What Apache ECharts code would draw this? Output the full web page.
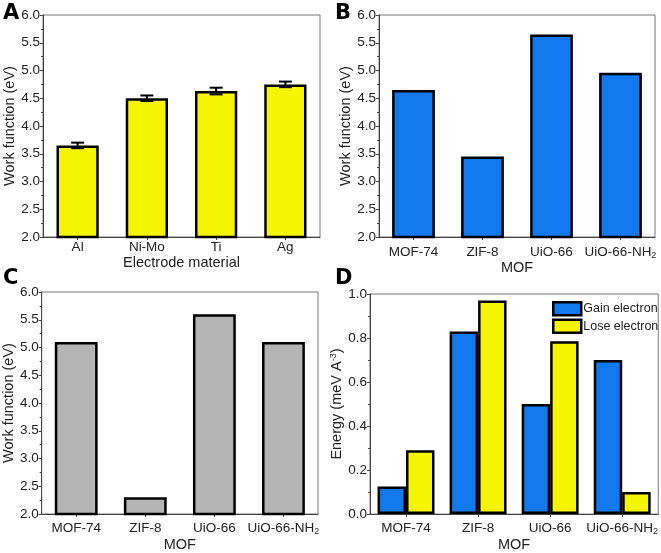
<!DOCTYPE html>
<html><head><meta charset="utf-8">
<script src="https://cdn.jsdelivr.net/npm/echarts@6/dist/echarts.min.js"></script>
<style>html,body{margin:0;padding:0;background:#fff}#c{width:661px;height:553px}</style>
</head><body><div id="c"></div>
<script>
// ---- data ----
const electrodes = ['Al', 'Ni-Mo', 'Ti', 'Ag'];
const electrodeWF = [3.65, 4.50, 4.63, 4.75];
const electrodeErr = [0.05, 0.05, 0.06, 0.05];
const mofs = ['MOF-74', 'ZIF-8', 'UiO-66', 'UiO-66-NH2'];
const mofWF_B = [4.65, 3.45, 5.65, 4.96];
const mofWF_C = [5.10, 2.30, 5.60, 5.10];
const gainElectron = [0.125, 0.83, 0.50, 0.70];
const loseElectron = [0.29, 0.97, 0.785, 0.10];
const wfTicks = [2.0, 2.5, 3.0, 3.5, 4.0, 4.5, 5.0, 5.5, 6.0];
const energyTicks = [0.0, 0.2, 0.4, 0.6, 0.8, 1.0];

const FONT = 'Liberation Sans';
const YELLOW = '#f5f500', BLUE = '#1278ee', GRAY = '#b4b4b4';
const chart = echarts.init(document.getElementById('c'));

const grids = [
  {left: 43, top: 15, width: 277, height: 222},
  {left: 379, top: 15, width: 276, height: 222},
  {left: 40, top: 292, width: 278, height: 223},
  {left: 370, top: 294, width: 289, height: 222}
].map(g => Object.assign({show: true, borderColor: '#777', borderWidth: 1, backgroundColor: 'transparent'}, g));

function catLabel(v) {
  if (v.endsWith('NH2')) return '{a|' + v.slice(0, -1) + '}{s|2}';
  return '{a|' + v + '}';
}
function xAxis(i, data, name, margin, gap) {
  return {
    type: 'category', gridIndex: i, data: data,
    name: name, nameLocation: 'middle', nameGap: gap,
    nameTextStyle: {fontFamily: FONT, fontSize: 14.5, color: '#222'},
    axisLine: {lineStyle: {color: '#444', width: 1}},
    axisTick: {show: true, alignWithLabel: true, length: 3, lineStyle: {color: '#444'}},
    axisLabel: {margin: margin, interval: 0, formatter: catLabel,
      rich: {a: {fontFamily: FONT, fontSize: 13.5, color: '#222', lineHeight: 15},
             s: {fontFamily: FONT, fontSize: 9, color: '#222', verticalAlign: 'bottom', lineHeight: 10, padding: [7, 0, 0, 0]}}}
  };
}
function yAxis(i, ticks, name, gap) {
  const step = ticks[1] - ticks[0];
  return {
    type: 'value', gridIndex: i, min: ticks[0], max: ticks[ticks.length - 1], interval: step,
    name: name, nameLocation: 'middle', nameGap: gap, nameRotate: 90,
    nameTextStyle: {fontFamily: FONT, fontSize: 14.5, color: '#222',
      rich: {sup: {fontFamily: FONT, fontSize: 9, color: '#222', verticalAlign: 'top', padding: [0, 0, 7, 0]}}},
    axisLine: {show: true, lineStyle: {color: '#444', width: 1}},
    axisTick: {show: true, length: 3, lineStyle: {color: '#444'}},
    minorTick: {show: true, splitNumber: 2, length: 2, lineStyle: {color: '#444'}},
    splitLine: {show: false},
    axisLabel: {margin: 3, fontFamily: FONT, fontSize: 13.5, color: '#222',
      formatter: v => v.toFixed(1)}
  };
}
const barStyle = c => ({color: c, borderColor: '#000', borderWidth: 2.5});

const option = {
  animation: false,
  grid: grids,
  xAxis: [xAxis(0, electrodes, 'Electrode material', 3, 17), xAxis(1, mofs, 'MOF', 8, 20),
          xAxis(2, mofs, 'MOF', 7, 23), xAxis(3, mofs, 'MOF', 7, 20)],
  yAxis: [yAxis(0, wfTicks, 'Work function (eV)', 25), yAxis(1, wfTicks, 'Work function (eV)', 25),
          yAxis(2, wfTicks, 'Work function (eV)', 24), yAxis(3, energyTicks, 'Energy (meV A{sup|-3})', 24)],
  legend: {
    orient: 'vertical', left: 547, top: 296, itemWidth: 28, itemHeight: 13, itemGap: 2,
    icon: 'rect',
    textStyle: {fontFamily: FONT, fontSize: 12.5, color: '#222', padding: [0, 0, 0, -3]},
    itemStyle: {borderColor: '#000', borderWidth: 2.5},
    data: ['Gain electron', 'Lose electron']
  },
  graphic: [
    {type: 'text', left: 3, top: 3, style: {text: 'A', font: 'bold 21px "DejaVu Sans"', fill: '#000'}},
    {type: 'text', left: 335, top: 3, style: {text: 'B', font: 'bold 21px "DejaVu Sans"', fill: '#000'}},
    {type: 'text', left: 3, top: 268, style: {text: 'C', font: 'bold 21px "DejaVu Sans"', fill: '#000'}},
    {type: 'text', left: 335, top: 268, style: {text: 'D', font: 'bold 21px "DejaVu Sans"', fill: '#000'}}
  ],
  series: [
    {type: 'bar', xAxisIndex: 0, yAxisIndex: 0, data: electrodeWF, barWidth: '61%', itemStyle: barStyle(YELLOW)},
    {type: 'custom', xAxisIndex: 0, yAxisIndex: 0, z: 5,
      data: electrodeWF.map((v, i) => [i, v - electrodeErr[i], v + electrodeErr[i]]),
      renderItem: function (params, api) {
        const lo = api.coord([api.value(0), api.value(1)]);
        const hi = api.coord([api.value(0), api.value(2)]);
        const w = 6.5;
        const st = {stroke: '#000', lineWidth: 2};
        return {type: 'group', children: [
          {type: 'line', shape: {x1: lo[0], y1: lo[1], x2: hi[0], y2: hi[1]}, style: st},
          {type: 'line', shape: {x1: lo[0] - w, y1: lo[1], x2: lo[0] + w, y2: lo[1]}, style: st},
          {type: 'line', shape: {x1: hi[0] - w, y1: hi[1], x2: hi[0] + w, y2: hi[1]}, style: st}
        ]};
      }},
    {type: 'bar', xAxisIndex: 1, yAxisIndex: 1, data: mofWF_B, barWidth: '62%', itemStyle: barStyle(BLUE)},
    {type: 'bar', xAxisIndex: 2, yAxisIndex: 2, data: mofWF_C, barWidth: '62%', itemStyle: barStyle(GRAY)},
    {type: 'bar', name: 'Gain electron', xAxisIndex: 3, yAxisIndex: 3, data: gainElectron, barGap: '0%', barCategoryGap: '21%', itemStyle: barStyle(BLUE)},
    {type: 'bar', name: 'Lose electron', xAxisIndex: 3, yAxisIndex: 3, data: loseElectron, barGap: '0%', barCategoryGap: '21%', itemStyle: barStyle(YELLOW)}
  ]
};
chart.setOption(option);
</script></body></html>
